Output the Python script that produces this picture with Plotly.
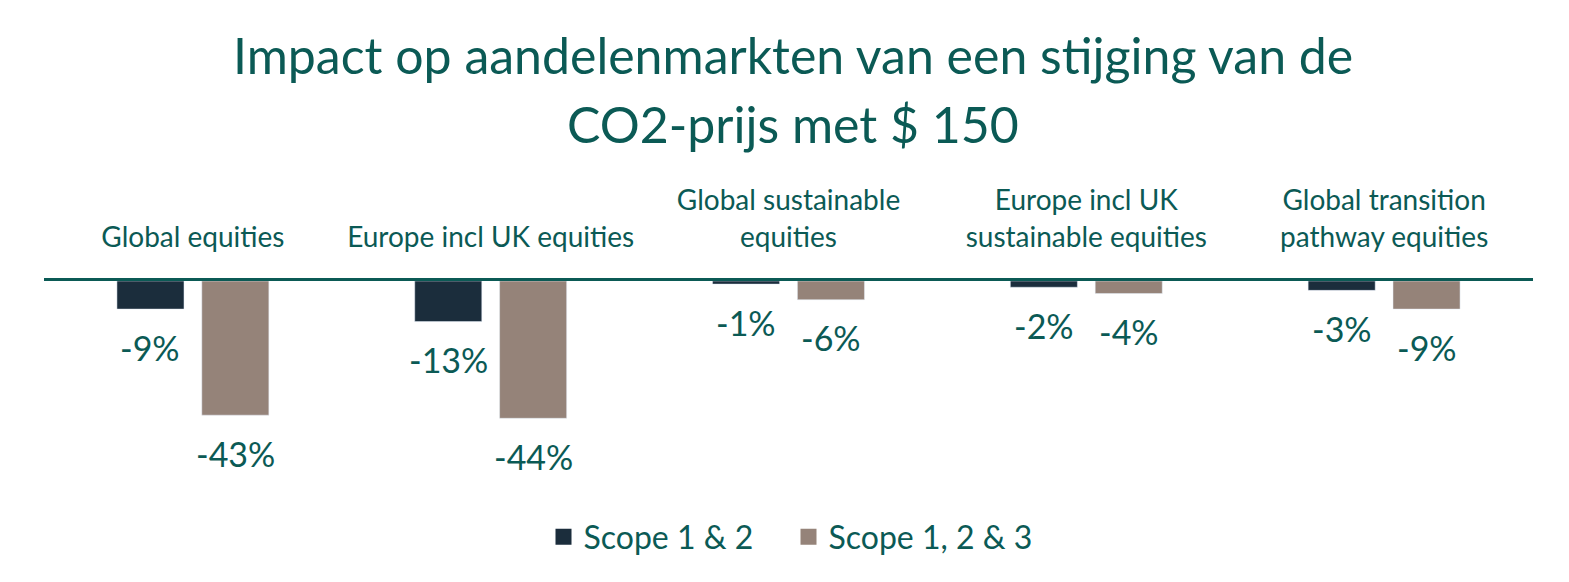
import plotly.graph_objects as go

categories = [
    "Global equities",
    "Europe incl UK equities",
    "Global sustainable<br>equities",
    "Europe incl UK<br>sustainable equities",
    "Global transition<br>pathway equities",
]
scope_12 = [-9, -13, -1, -2, -3]
scope_123 = [-43, -44, -6, -4, -9]
series_names = ["Scope 1 & 2", "Scope 1, 2 & 3"]
title_lines = ["Impact op aandelenmarkten van een stijging van de", "CO2-prijs met $ 150"]

TEAL = "#0b5a55"
DARK = "#1b2d3c"
TAUPE = "#958379"
FONT = "Lato, 'Open Sans', sans-serif"

fig = go.Figure()
for name, vals, col in [(series_names[0], scope_12, DARK), (series_names[1], scope_123, TAUPE)]:
    fig.add_trace(go.Bar(
        x=categories, y=vals, name=name, marker_color=col,
        offsetgroup=name, showlegend=False,
    ))
    # legend entry with a bigger square swatch
    fig.add_trace(go.Scatter(
        x=[None], y=[None], mode="markers", name=name,
        marker=dict(symbol="square", size=20, color=col),
    ))

# value labels placed well below the bar ends
for vals, shift in [(scope_12, -0.5), (scope_123, 0.5)]:
    for i, v in enumerate(vals):
        fig.add_annotation(
            x=i, y=v, xref="x", yref="y",
            text=f"{v}%", showarrow=False,
            xshift=shift * 85, yshift=-38,
            font=dict(family=FONT, size=34, color=TEAL),
        )

# two-line title
for line, ypx in zip(title_lines, [55, 124]):
    fig.add_annotation(
        x=0.503, xref="paper", y=1 + (281 - ypx) / 200, yref="paper",
        text=line, showarrow=False, xanchor="center", yanchor="middle",
        font=dict(family=FONT, size=50, color=TEAL),
    )

fig.update_layout(
    width=1569, height=582,
    paper_bgcolor="white", plot_bgcolor="white",
    font=dict(family=FONT, color=TEAL),
    margin=dict(l=44, r=36, t=281, b=101, autoexpand=False),
    barmode="group", bargap=0.43, bargroupgap=0.21,
    showlegend=True,
    legend=dict(
        orientation="h", x=0.5, xanchor="center", y=-0.28, yanchor="middle",
        font=dict(family=FONT, size=32, color=TEAL),
        itemsizing="trace", traceorder="normal",
        entrywidth=200, entrywidthmode="pixels",
    ),
    xaxis=dict(
        side="top", showgrid=False, showline=True, linecolor=TEAL, linewidth=3,
        ticks="", tickfont=dict(family=FONT, size=28, color=TEAL),
        ticklabelstandoff=20, fixedrange=True, automargin=False,
    ),
    yaxis=dict(
        range=[-64.1, 0], visible=False, showgrid=False, zeroline=False,
        automargin=False,
    ),
)

fig.write_html(
    "out.html",
    config={"displayModeBar": False},
    post_script="document.body.style.margin='0';",
)
